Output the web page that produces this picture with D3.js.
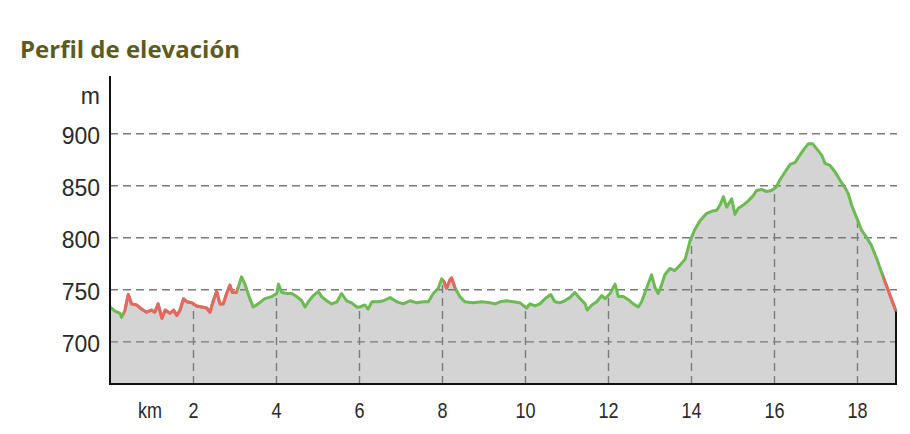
<!DOCTYPE html>
<html>
<head>
<meta charset="utf-8">
<script src="https://cdn.jsdelivr.net/npm/d3@7"></script>
<style>
  body { margin: 0; background: #fff; }
  svg { display: block; }
  .title { font-family: "Open Sans", sans-serif; font-weight: bold; font-size: 24px; fill: #5d5b1f; }
  .lbl text { font-family: "Liberation Sans", Arial, sans-serif; fill: #2a2a2a; }
  .grid line { stroke: #7a7a7a; stroke-width: 1.4; stroke-dasharray: 8 5; }
</style>
</head>
<body>
<div id="chart"></div>
<script>
// elevation profile, km along the route and metres
var km = [0, 0.12, 0.24, 0.28, 0.36, 0.44, 0.52, 0.64, 0.76, 0.88, 1.00, 1.08, 1.16, 1.25, 1.33, 1.45, 1.53, 1.61, 1.69, 1.77,
  1.85, 1.97, 2.09, 2.21, 2.33, 2.41, 2.49, 2.57, 2.65, 2.73, 2.81, 2.89, 2.95, 3.05, 3.13, 3.17, 3.25, 3.37, 3.45, 3.57,
  3.73, 3.90, 4.02, 4.06, 4.14, 4.26, 4.38, 4.50, 4.62, 4.70, 4.78, 4.90, 5.02, 5.10, 5.22, 5.34, 5.47, 5.58, 5.70, 5.82,
  5.95, 6.02, 6.14, 6.22, 6.31, 6.47, 6.59, 6.75, 6.91, 7.07, 7.23, 7.39, 7.55, 7.67, 7.79, 7.91, 7.99, 8.05, 8.11, 8.19,
  8.23, 8.31, 8.43, 8.55, 8.75, 8.96, 9.16, 9.28, 9.40, 9.56, 9.72, 9.88, 10.04, 10.12, 10.24, 10.36, 10.48, 10.62, 10.72, 10.84,
  10.96, 11.08, 11.20, 11.33, 11.45, 11.50, 11.61, 11.73, 11.85, 11.93, 12.05, 12.17, 12.25, 12.37, 12.49, 12.61, 12.73, 12.81, 12.93, 13.05,
  13.13, 13.21, 13.29, 13.37, 13.49, 13.61, 13.73, 13.86, 13.98, 14.10, 14.22, 14.38, 14.50, 14.62, 14.70, 14.78, 14.86, 14.98, 15.06, 15.14,
  15.26, 15.38, 15.50, 15.58, 15.70, 15.82, 15.94, 16.05, 16.14, 16.27, 16.39, 16.51, 16.59, 16.71, 16.83, 16.93, 17.03, 17.15, 17.23, 17.35,
  17.47, 17.59, 17.71, 17.79, 17.87, 17.95, 18.03, 18.11, 18.23, 18.35, 18.47, 18.63, 18.92, 18.94];
var elev = [733, 729, 727, 723, 730, 745, 736, 735, 731, 728, 730, 728, 736, 722, 730, 727, 730, 725, 730, 741,
  738, 737, 734, 733, 732, 728, 739, 748, 736, 736, 746, 754, 747, 747, 757, 762, 755, 741, 733, 736,
  741, 743, 746, 755, 747, 746, 746, 743, 739, 733, 738, 744, 748, 743, 739, 736, 738, 746, 739, 737,
  733, 733, 735, 731, 738, 738, 739, 742, 738, 736, 739, 737, 738, 738, 746, 751, 760, 757, 751, 759,
  761, 752, 743, 738, 737, 738, 737, 736, 738, 739, 738, 737, 732, 736, 734, 736, 741, 745, 738, 737,
  739, 742, 747, 741, 736, 730, 735, 738, 744, 741, 746, 755, 743, 743, 740, 736, 733, 738, 751, 764,
  752, 746, 754, 764, 770, 768, 773, 779, 797, 808, 816, 823, 825, 826, 831, 839, 829, 837, 822, 828,
  831, 835, 840, 845, 846, 844, 845, 848, 855, 863, 870, 872, 877, 884, 890, 890, 885, 879, 871, 869,
  863, 855, 848, 842, 831, 823, 815, 807, 800, 792, 780, 762, 731, 729];
// stretches drawn in red (km from / to)
var redFrom = [0.34, 8.03, 18.62];
var redTo = [2.96, 8.24, 18.94];
var yTicks = [700, 750, 800, 850, 900];
var xTicks = [2, 4, 6, 8, 10, 12, 14, 16, 18];

var W = 910, H = 434;
var pLeft = 110, pRight = 896, pTop = 76, pBottom = 384;

var svg = d3.select("#chart").append("svg")
  .attr("width", W)
  .attr("height", H);

svg.append("text")
  .attr("class", "title")
  .attr("x", 20)
  .attr("y", 58)
  .text("Perfil de elevación");

var x = d3.scaleLinear().domain([0, 18.94]).range([pLeft, pRight]);
var y = d3.scaleLinear().domain([659, 955]).range([pBottom, pTop]);

var pts = km.map(function(d, i) { return [d, elev[i]]; });

var area = d3.area()
  .x(function(d) { return x(d[0]); })
  .y0(pBottom)
  .y1(function(d) { return y(d[1]); });
var line = d3.line()
  .x(function(d) { return x(d[0]); })
  .y(function(d) { return y(d[1]); });

var defs = svg.append("defs");
defs.append("clipPath").attr("id", "under")
  .append("path").attr("d", area(pts));
var redClip = defs.append("clipPath").attr("id", "red");
redFrom.forEach(function(a, i) {
  redClip.append("rect")
    .attr("x", x(a))
    .attr("y", 0)
    .attr("width", x(redTo[i]) - x(a) + 4)
    .attr("height", H);
});

// fill
svg.append("path")
  .attr("d", area(pts))
  .attr("fill", "#d4d4d4");

// vertical grid, only under the profile
svg.append("g")
  .attr("clip-path", "url(#under)")
  .append("g")
  .attr("class", "grid")
  .attr("transform", "translate(0," + pBottom + ")")
  .call(d3.axisBottom(x).tickValues(xTicks).tickSize(-(pBottom - pTop)).tickFormat(""))
  .call(function(g) { g.select(".domain").remove(); });

// horizontal grid
svg.append("g")
  .attr("class", "grid")
  .attr("transform", "translate(" + pLeft + ",0)")
  .call(d3.axisLeft(y).tickValues(yTicks).tickSize(-(pRight - pLeft + 1)).tickFormat(""))
  .call(function(g) { g.select(".domain").remove(); });

// profile line
svg.append("path")
  .attr("d", line(pts))
  .attr("fill", "none")
  .attr("stroke", "#6cba52")
  .attr("stroke-width", 3)
  .attr("stroke-linejoin", "round");
svg.append("path")
  .attr("d", line(pts))
  .attr("clip-path", "url(#red)")
  .attr("fill", "none")
  .attr("stroke", "#eb6464")
  .attr("stroke-width", 3)
  .attr("stroke-linejoin", "round");

// frame
var last = pts[pts.length - 1];
svg.append("path")
  .attr("d", "M" + pLeft + "," + pTop + "V" + pBottom + "H" + x(last[0]) + "V" + y(last[1]))
  .attr("fill", "none")
  .attr("stroke", "#111")
  .attr("stroke-width", 2);

// y labels
var ya = svg.append("g")
  .attr("class", "lbl")
  .attr("transform", "translate(" + (pLeft - 10) + ",0)")
  .call(d3.axisLeft(y).tickValues(yTicks).tickSize(0).tickPadding(0))
  .call(function(g) { g.select(".domain").remove(); });
ya.selectAll("text")
  .attr("font-size", 23)
  .attr("dy", "0.45em");
svg.append("g").attr("class", "lbl").append("text")
  .attr("x", pLeft - 10)
  .attr("y", 104)
  .attr("text-anchor", "end")
  .attr("font-size", 23)
  .text("m");

// x labels, slightly condensed like the original
var xa = svg.append("g")
  .attr("class", "lbl")
  .attr("transform", "translate(0," + pBottom + ")")
  .call(d3.axisBottom(x).tickValues(xTicks).tickSize(0).tickPadding(0))
  .call(function(g) { g.select(".domain").remove(); });
xa.selectAll("text")
  .attr("font-size", 22)
  .attr("y", 0)
  .attr("dy", 0)
  .attr("transform", "translate(0,34) scale(0.82,1)");
svg.append("g").attr("class", "lbl")
  .attr("transform", "translate(" + (x(2) - 31) + "," + (pBottom + 34) + ") scale(0.82,1)")
  .append("text")
  .attr("text-anchor", "end")
  .attr("font-size", 22)
  .text("km");
</script>
</body>
</html>
